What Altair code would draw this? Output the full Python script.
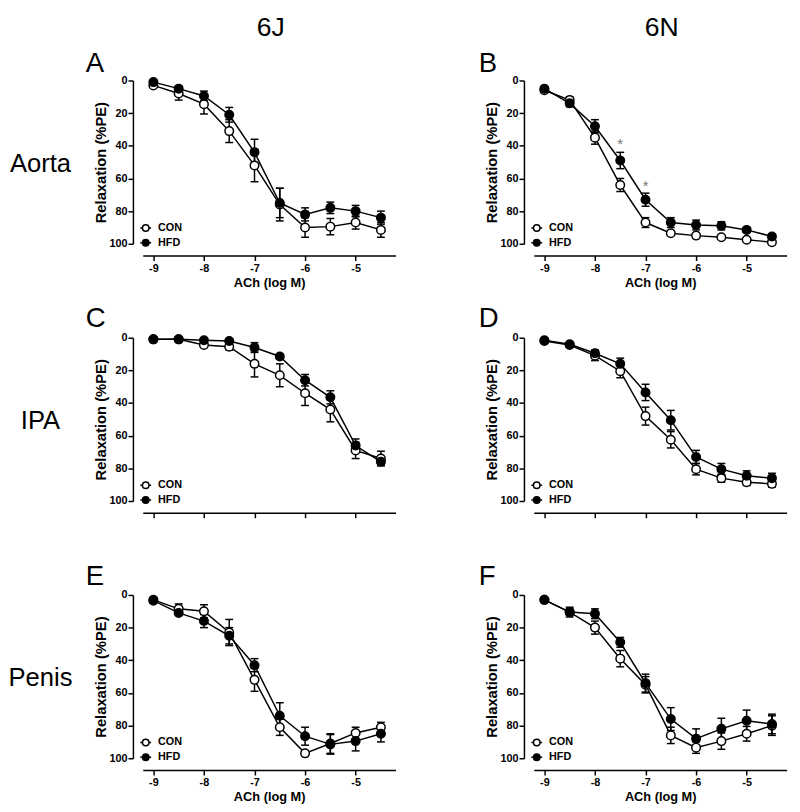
import altair as alt
import pandas as pd

FONT = "Liberation Sans"

# ---------------- data ----------------
log_ach = [-9, -8.5, -8, -7.5, -7, -6.5, -6, -5.5, -5, -4.5]
groups = ["CON", "HFD"]
strains = ["6J", "6N"]
tissues = ["Aorta", "IPA", "Penis"]
letters = ["A", "B", "C", "D", "E", "F"]

A_con = [3, 8, 14.5, 31, 52, 76, 90, 89.5, 87, 91.5]
A_con_err = [1, 4, 6, 7, 10, 10, 6, 5, 4, 4.5]
A_hfd = [1, 5, 9.5, 21, 44, 75, 82, 78, 80, 84]
A_hfd_err = [1, 1.5, 3, 4.5, 8, 9, 4, 3.5, 3.5, 4]

B_con = [6, 12, 35, 64, 87, 93.5, 95, 96, 97.5, 99]
B_con_err = [1, 2, 4, 4, 3, 1, 1, 1, 1, 1]
B_hfd = [5, 14, 28, 49, 73, 87, 88.5, 89, 91.5, 95.5]
B_hfd_err = [1, 2, 4, 5, 4, 3, 3, 2.5, 1.5, 1.5]
B_star_x = [-7.5, -7]
B_star_y = [37, 63]

C_con = [1, 1, 4.5, 5.5, 16, 23, 34, 44, 69, 74]
C_con_err = [0.5, 0.5, 1, 2, 8, 7, 7.5, 7.5, 5, 4.5]
C_hfd = [1, 1, 1.5, 2, 6, 11.5, 26, 36.5, 66, 76]
C_hfd_err = [0.5, 0.5, 0.5, 1, 3, 1.5, 3.5, 4, 4, 2]

D_con = [2, 4.5, 11, 20.5, 48, 62.5, 80.5, 86, 88.5, 89.5]
D_con_err = [1, 1, 3, 4, 5.5, 5, 3.5, 2.5, 2, 2]
D_hfd = [1.5, 4, 9.5, 16, 33.5, 50.5, 73, 80.5, 84.5, 86]
D_hfd_err = [1, 1, 2, 3.5, 5, 6, 4, 3.5, 3, 3]

E_con = [3, 8.5, 10, 23, 52, 81, 97, 91, 84.5, 81]
E_con_err = [1.5, 3, 4, 8, 7, 5, 1, 6, 3.5, 3]
E_hfd = [3.5, 11, 16, 25, 43, 74, 86.5, 91.5, 89.5, 85]
E_hfd_err = [1.5, 1.5, 4, 5, 4, 8, 5.5, 6, 6, 5]

F_con = [3, 10.5, 20, 39, 55, 86, 93.5, 89.5, 85, 80]
F_con_err = [1, 2, 4, 5, 5, 5, 3.5, 5, 4.5, 6]
F_hfd = [3, 10.5, 11.5, 29, 54, 76, 88, 82, 77, 79]
F_hfd_err = [1, 3, 3, 3, 5.5, 7, 6, 6.5, 6.5, 6]

panels_data = [
    (A_con, A_con_err, A_hfd, A_hfd_err),
    (B_con, B_con_err, B_hfd, B_hfd_err),
    (C_con, C_con_err, C_hfd, C_hfd_err),
    (D_con, D_con_err, D_hfd, D_hfd_err),
    (E_con, E_con_err, E_hfd, E_hfd_err),
    (F_con, F_con_err, F_hfd, F_hfd_err),
]

# ---------------- layout constants ----------------
W, H = 257, 166
LEGEND_PATH = ("M-1,0L-0.6,0M0.6,0L1,0M0.6,0A0.6,0.6,0,1,1,-0.6,0"
               "A0.6,0.6,0,1,1,0.6,0Z")
letter_dy = {0: -9, 1: -11, 2: -10}
letter_dx = {0: -58, 1: -56}


def panel(idx):
    row, col = divmod(idx, 2)
    con, con_err, hfd, hfd_err = panels_data[idx]
    df = pd.DataFrame({
        "x": log_ach * 2,
        "y": con + hfd,
        "err": con_err + hfd_err,
        "group": [groups[0]] * len(log_ach) + [groups[1]] * len(log_ach),
    })
    df["lo"] = df["y"] - df["err"]
    df["hi"] = df["y"] + df["err"]

    show_x = row != 1
    xscale = alt.Scale(domain=[-9.21, -4.21], nice=False, zero=False)
    yscale = alt.Scale(domain=[0, 100], reverse=True, nice=False, zero=False)
    xaxis = alt.Axis(values=[-9, -8, -7, -6, -5], labelExpr="datum.value + ''",
                     offset=12, labels=show_x)
    yaxis = alt.Axis(values=[0, 20, 40, 60, 80, 100], offset=10)
    xtitle = "ACh (log M)" if show_x else ""
    ytitle = "Relaxation (%PE)"

    def X(f):
        return alt.X(f, type="quantitative", scale=xscale, axis=xaxis, title=xtitle)

    def Y(f):
        return alt.Y(f, type="quantitative", scale=yscale, axis=yaxis, title=ytitle)

    base = alt.Chart(df)
    lines = base.mark_line(color="black", strokeWidth=1.5).encode(
        x=X("x"), y=Y("y"), detail="group:N")
    rules = base.mark_rule(color="black", strokeWidth=1.5).encode(
        x=X("x"), y=Y("lo"), y2="hi")
    cap_lo = base.mark_tick(orient="horizontal", size=8, thickness=1.5,
                            color="black", opacity=1).encode(x=X("x"), y=Y("lo"))
    cap_hi = base.mark_tick(orient="horizontal", size=8, thickness=1.5,
                            color="black", opacity=1).encode(x=X("x"), y=Y("hi"))
    points = base.mark_point(filled=True, shape="circle", size=75, stroke="black",
                             strokeWidth=1.5, opacity=1).encode(
        x=X("x"), y=Y("y"),
        fill=alt.Fill("group:N",
                      scale=alt.Scale(domain=groups, range=["white", "black"]),
                      legend=alt.Legend(title=None, orient="none", legendX=-3.5,
                                        legendY=143.5, symbolType=LEGEND_PATH,
                                        symbolSize=121, symbolStrokeColor="black",
                                        symbolStrokeWidth=1.5, symbolOpacity=1,
                                        labelFont=FONT, labelFontSize=11,
                                        labelFontWeight="bold", labelColor="black",
                                        labelOffset=6, rowPadding=2, padding=0)))

    layers = [lines, rules, cap_lo, cap_hi, points]

    letter = alt.Chart(pd.DataFrame({"t": [letters[idx]]})).mark_text(
        font=FONT, fontSize=28, align="left", baseline="alphabetic",
        color="black").encode(text="t:N", x=alt.value(letter_dx[col]),
                              y=alt.value(letter_dy[row]))
    layers.append(letter)

    if col == 0:
        rl = alt.Chart(pd.DataFrame({"t": [tissues[row]]})).mark_text(
            font=FONT, fontSize=26, align="center", baseline="middle",
            color="black").encode(text="t:N", x=alt.value(-104), y=alt.value(85))
        layers.append(rl)
    if row == 0:
        hd = alt.Chart(pd.DataFrame({"t": [strains[col]]})).mark_text(
            font=FONT, fontSize=27, align="center", baseline="alphabetic",
            color="black").encode(text="t:N", x=alt.value(130), y=alt.value(-45))
        layers.append(hd)
    if idx == 1:
        st = alt.Chart(pd.DataFrame({"x": B_star_x, "y": B_star_y})).mark_text(
            text="*", font=FONT, fontSize=15, color="#777777",
            baseline="alphabetic", dy=8).encode(x=X("x"), y=Y("y"))
        layers.append(st)

    return alt.layer(*layers).properties(width=W, height=H)


chart = alt.concat(
    *[panel(i) for i in range(6)],
    columns=2,
    spacing={"row": 95.5, "column": 140.5},
    bounds="flush",
).resolve_scale(fill="independent").resolve_legend(fill="independent").properties(
    padding={"left": 0, "top": 0, "right": 5, "bottom": 5}
).configure_view(stroke=None).configure_axis(
    grid=False, domainColor="black", domainWidth=1.5, tickColor="black",
    tickWidth=1.5, tickSize=5, labelFont=FONT, labelFontSize=11,
    labelFontWeight="bold", labelColor="black", titleFont=FONT,
    titleFontWeight="bold", titleColor="black"
).configure_axisX(titleFontSize=13, labelPadding=2, titlePadding=3
).configure_axisY(titleFontSize=15, labelPadding=1, titlePadding=1)

chart.save("out.html", embed_options={"renderer": "svg", "actions": False})
